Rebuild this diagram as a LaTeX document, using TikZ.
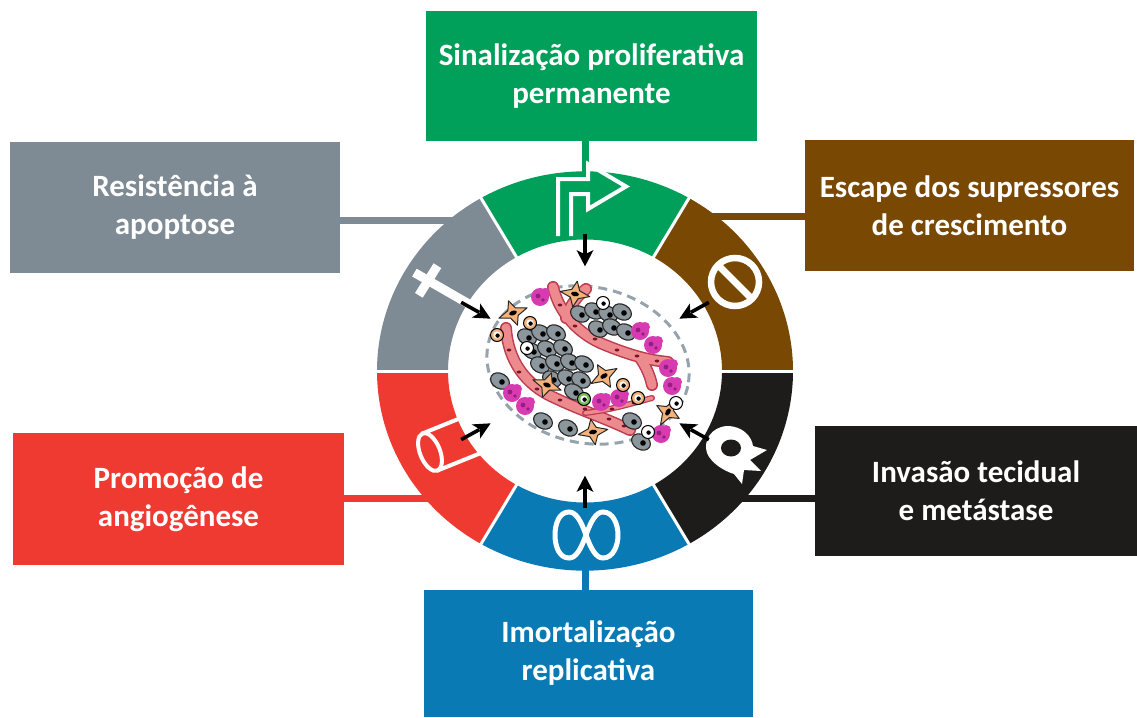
\documentclass[tikz,border=0pt]{standalone}
\usepackage{fontspec}
\setmainfont{Carlito}
\definecolor{hmgreen}{RGB}{0,160,90}
\definecolor{hmgray}{RGB}{127,139,148}
\definecolor{hmbrown}{RGB}{121,72,2}
\definecolor{hmred}{RGB}{238,58,48}
\definecolor{hmblack}{RGB}{30,27,27}
\definecolor{hmblue}{RGB}{10,122,181}
\definecolor{vesselpink}{RGB}{236,138,142}
\definecolor{vesseledge}{RGB}{190,60,80}
\definecolor{vesseldot}{RGB}{120,20,40}
\definecolor{immune}{RGB}{214,60,176}
\definecolor{immunedark}{RGB}{150,30,130}
\definecolor{fibro}{RGB}{244,178,122}
\definecolor{cellgray}{RGB}{140,150,157}
\definecolor{capsule}{RGB}{150,163,172}
\definecolor{tcell}{RGB}{120,190,90}
\begin{document}
\begin{tikzpicture}[x=1pt,y=-1pt,
  hallmark/.style={rectangle, fill=#1, text=white, inner sep=0pt, align=center,
    font=\bfseries\fontsize{31}{38}\selectfont},
  link/.style={draw=#1, line width=7pt},
  icon/.style={draw=white, line width=4pt},
  vesselout/.style={draw=vesseledge, line width=12pt, line cap=round},
  vesselin/.style={draw=vesselpink, line width=9pt, line cap=round},
  tumorcell/.style={fill=cellgray, draw=black!85, line width=1.1pt},
  starcell/.style={fill=fibro, draw=black!85, line width=1pt, line join=round}
]
\useasboundingbox (0,0) rectangle (1137,717);

% the six hallmark boxes
\node[hallmark=hmgreen, minimum width=331pt, minimum height=130pt] (prolif) at (591.5,76) {Sinalização proliferativa\\permanente};
\node[hallmark=hmgray, minimum width=330pt, minimum height=131pt] (apopt) at (175,207.5) {Resistência à\\apoptose};
\node[hallmark=hmbrown, minimum width=329pt, minimum height=131pt] (supp) at (969.5,205.5) {Escape dos supressores\\de crescimento};
\node[hallmark=hmred, minimum width=331pt, minimum height=132pt] (angio) at (178.5,499) {Promoção de\\angiogênese};
\node[hallmark=hmblack, minimum width=322pt, minimum height=130pt] (invas) at (976,491) {Invasão tecidual\\e metástase};
\node[hallmark=hmblue, minimum width=329pt, minimum height=127pt] (immort) at (588.5,653.5) {Imortalização\\replicativa};

% anchor points inside the ring segments
\coordinate (ringN) at (585,195);
\coordinate (ringS) at (585,548);
\coordinate (ringNW) at (470,220);
\coordinate (ringNE) at (700,216);
\coordinate (ringSW) at (470,498);
\coordinate (ringSE) at (700,498);

% connectors from boxes to the ring
\draw[link=hmgreen] (ringN |- prolif.south) -- (ringN);
\draw[link=hmblue] (ringS |- immort.north) -- (ringS);
\draw[link=hmgray] (apopt.east |- ringNW) -- (ringNW);
\draw[link=hmbrown] (supp.west |- ringNE) -- (ringNE);
\draw[link=hmred] (angio.east |- ringSW) -- (ringSW);
\draw[link=hmblack] (invas.west |- ringSE) -- (ringSE);

% ring of six segments
\begin{scope}[shift={(585,371)}, yscale=-0.96]
  \foreach \a/\c in {60/hmgreen,120/hmgray,180/hmred,240/hmblue,300/hmblack,0/hmbrown}
    \fill[\c] (\a:208) arc[start angle=\a, end angle=\a+60, radius=208]
      -- ({\a+60}:137) arc[start angle=\a+60, end angle=\a, radius=137] -- cycle;
  \foreach \a in {0,60,...,300}
    \draw[white, line width=3pt] (\a:134) -- (\a:211);
  % cross (apoptosis)
  \begin{scope}[rotate=-149]
    \draw[white, line width=9pt] (132,0) -- (199,0);
    \draw[white, line width=9pt] (183,-18) -- (183,18);
  \end{scope}
\end{scope}

% bent arrow (proliferative signalling)
\draw[icon, line join=miter] (571,236) -- (571,194) -- (588,194) -- (588,209) -- (626,186.5)
  -- (588,164) -- (588,179) -- (558,179) -- (558,236);

% no-entry sign (growth suppressors)
\draw[white, line width=6.5pt] (735,282) circle[radius=24];
\draw[white, line width=7pt] (735,282) ++(-17,-17) -- ++(34,34);

% invading cell (invasion and metastasis)
\fill[white] (727,426) .. controls (711,427) and (703,441) .. (707,453)
  .. controls (711,463) and (724,471) .. (734,474) -- (742,484) -- (744,470)
  -- (761,471) -- (750,460) -- (767,450) -- (753,446)
  .. controls (752,437) and (743,426) .. (727,426) -- cycle;
\fill[hmblack] (731,448) ellipse[x radius=10, y radius=8.5];

% infinity sign (replicative immortality)
\draw[icon, line width=5pt] (586,535) .. controls (591,521) and (596,512) .. (603,512)
  .. controls (613,512) and (618,524) .. (618,535) .. controls (618,546) and (613,558) .. (603,558)
  .. controls (596,558) and (591,549) .. (586,535) .. controls (581,521) and (576,512) .. (569,512)
  .. controls (559,512) and (555,524) .. (555,535) .. controls (555,546) and (559,558) .. (569,558)
  .. controls (576,558) and (581,549) .. (586,535) -- cycle;

% vessel segment (angiogenesis)
\begin{scope}[shift={(430,452)}, rotate=22]
  \draw[icon] (0,0) ellipse[x radius=10, y radius=20];
  \draw[icon] (0,-20) -- (42,-20);
  \draw[icon] (0,20) -- (47,20);
\end{scope}

% inward arrows, one per segment, pointing at the tumour
\begin{scope}[shift={(585,371)}, yscale=-0.96]
  \foreach \a in {30,90,...,330}{
    \begin{scope}[rotate=-\a]
      \draw[black, line width=3.6pt] (143,0) -- (122,0);
      \fill[black] (109,0) -- (126,-8.5) -- (121.5,0) -- (126,8.5) -- cycle;
    \end{scope}
  }
\end{scope}

% tumour: capsule
\draw[capsule, line width=3pt, dash pattern=on 9pt off 6pt, rotate around={-12:(588,365)}]
  (588,365) ellipse[x radius=102, y radius=78];

% tumour: blood vessels
\foreach \s in {vesselout,vesselin}{
  \draw[\s] (553,287) .. controls (560,315) and (580,335) .. (605,345)
    .. controls (625,353) and (645,360) .. (668,362);
  \draw[\s] (566,318) .. controls (570,305) and (578,295) .. (586,289);
  \draw[\s] (640,358) .. controls (645,365) and (650,375) .. (652,385);
  \draw[\s] (506,328) .. controls (508,360) and (525,385) .. (555,398)
    .. controls (580,410) and (605,418) .. (630,430);
}
\draw[vesseledge, line width=6pt, line cap=round] (585,413) .. controls (610,410) and (630,404) .. (652,398);
\draw[vesselpink, line width=3.5pt, line cap=round] (585,413) .. controls (610,410) and (630,404) .. (652,398);
\foreach \x/\y in {560/305,575/326,595/339,617/350,637/356,657/361,509/350,519/372,537/389,560/400,585/409,609/419,624/426,612/409,634/403,582/294}
  \fill[vesseldot] (\x,\y) ellipse[x radius=2.4, y radius=1.5];

% tumour: cancer cells
\foreach \x/\y in {580/314,594/311,608/314,622/312,598/329,612/327,626/332,
  527/337,541/333,556/333,532/351,547/349,563/348,540/365,555/363,570/362,584/364,
  552/379,567/378,581/380,574/392,500/381,543/421,568/428,632/421,641/442}{
  \filldraw[tumorcell, rotate around={-30:(\x,\y)}] (\x,\y) ellipse[x radius=10, y radius=7.5];
  \fill (\x+2,\y+1) circle[radius=2.8];
}

% tumour: immune cells
\foreach \x/\y in {540/297,640/331,653/345,668/368,672/386,512/393,525/406,601/402,619/398,661/434}{
  \fill[immune] (\x,\y) circle[radius=9];
  \fill[immune] (\x+5,\y-4) circle[radius=5];
  \fill[immunedark] (\x-2,\y-1) circle[radius=2.4];
  \fill[immunedark] (\x+3,\y+3) circle[radius=1.8];
}

% tumour: fibroblasts
\foreach \x/\y/\r in {513/313/20,575/294/-10,604/376/30,547/385/-20,668/412/60,593/432/10}{
  \begin{scope}[shift={(\x,\y)}, rotate=\r]
    \filldraw[starcell] (15,0) -- (4,-4) -- (0,-13) -- (-4,-4) -- (-15,0) -- (-4,4) -- (0,13) -- (4,4) -- cycle;
    \fill (0,0) ellipse[x radius=4, y radius=2.3];
  \end{scope}
}

% tumour: small ring cells
\foreach \x/\y/\c in {497/335/fibro,530/323/fibro,603/303/white,527/348/white,623/385/fibro,638/398/fibro,676/403/white,648/432/white,584/399/tcell}{
  \filldraw[fill=\c, draw=black, line width=1pt] (\x,\y) circle[radius=6.5];
  \fill[white] (\x,\y) circle[radius=3.6];
  \fill (\x+0.6,\y+0.6) circle[radius=2.2];
}
\end{tikzpicture}
\end{document}
